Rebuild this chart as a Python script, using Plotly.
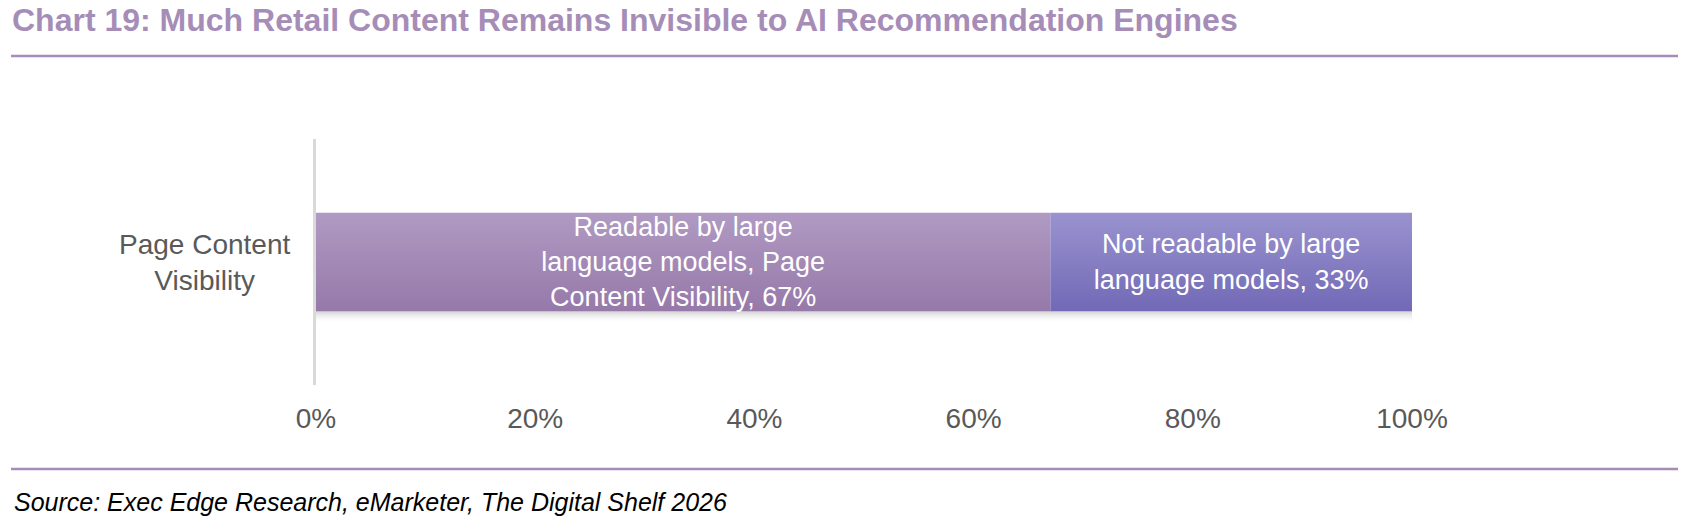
import plotly.graph_objects as go

# data
category = "Page Content<br>Visibility"
series_names = ["Readable by large language models", "Not readable by large language models"]
series_values = [67, 33]
bar_labels = ["Readable by large<br>language models, Page<br>Content Visibility, 67%",
              "Not readable by large<br>language models, 33%"]
bar_top_colors = ["#B09AC3", "#9A93CF"]
bar_bottom_colors = ["#9679A9", "#7169B6"]
tick_vals = [0, 20, 40, 60, 80, 100]
tick_text = ["0%", "20%", "40%", "60%", "80%", "100%"]

W, H = 1690, 523
L, R, T, B = 316, 1412, 139, 385   # plot area in pixels
FONT = "Arial, Liberation Sans, sans-serif"
ACCENT = "#A68DB8"
HALF = 0.2   # half bar thickness in y units


def px_x(p):
    return (p - L) / (R - L)


def px_y(p):
    return (B - p) / (B - T)


fig = go.Figure()

# gradient-filled segments on the base axes
start = 0
for val, top, bot in zip(series_values, bar_top_colors, bar_bottom_colors):
    end = start + val
    fig.add_trace(go.Scatter(
        x=[start, end, end, start, start], y=[-HALF, -HALF, HALF, HALF, -HALF],
        mode="lines", line=dict(width=0), fill="toself",
        fillgradient=dict(type="vertical", start=-HALF, stop=HALF,
                          colorscale=[[0, bot], [1, top]]),
        hoverinfo="skip", showlegend=False,
    ))
    start = end

# soft drop shadow under the whole bar
total = sum(series_values)
fig.add_trace(go.Scatter(
    x=[0, total, total, 0, 0], y=[-HALF - 0.05, -HALF - 0.05, -HALF, -HALF, -HALF - 0.05],
    mode="lines", line=dict(width=0), fill="toself",
    fillgradient=dict(type="vertical", start=-HALF - 0.05, stop=-HALF,
                      colorscale=[[0, "rgba(255,255,255,0)"], [1, "rgba(0,0,0,0.18)"]]),
    hoverinfo="skip", showlegend=False,
))

# bars carry the labels, drawn on an overlay so the text sits on top
for name, val, lab in zip(series_names, series_values, bar_labels):
    fig.add_trace(go.Bar(
        y=[0], x=[val], name=name, orientation="h",
        xaxis="x2", yaxis="y2",
        marker=dict(color="rgba(0,0,0,0)", line=dict(width=0)),
        text=[lab], textposition="inside", insidetextanchor="middle",
        constraintext="none",
        textfont=dict(color="white", size=27, family=FONT),
        width=2 * HALF,
    ))

axis_x = dict(range=[0, 100], showgrid=False, zeroline=False, showline=False,
              fixedrange=True)
axis_y = dict(range=[-0.5, 0.5], showticklabels=False, showgrid=False,
              zeroline=False, fixedrange=True)

fig.update_layout(
    width=W, height=H,
    barmode="stack",
    showlegend=False,
    plot_bgcolor="white", paper_bgcolor="white",
    margin=dict(l=L, r=W - R, t=T, b=H - B, pad=0),
    uniformtext=dict(mode=False),
    xaxis=dict(axis_x, tickvals=tick_vals, ticktext=tick_text,
               tickfont=dict(size=28, color="#595959", family=FONT),
               ticks="", ticklabelstandoff=14),
    yaxis=dict(axis_y, showline=True, linecolor="#D9D9D9", linewidth=3),
    xaxis2=dict(axis_x, overlaying="x", showticklabels=False),
    yaxis2=dict(axis_y, overlaying="y"),
    shapes=[
        dict(type="line", xref="paper", yref="paper",
             x0=px_x(11), x1=px_x(1678), y0=px_y(56), y1=px_y(56),
             line=dict(color=ACCENT, width=2.5)),
        dict(type="line", xref="paper", yref="paper",
             x0=px_x(11), x1=px_x(1678), y0=px_y(469), y1=px_y(469),
             line=dict(color=ACCENT, width=2.5)),
    ],
    annotations=[
        dict(text="<b>Chart 19: Much Retail Content Remains Invisible to AI Recommendation Engines</b>",
             xref="paper", yref="paper", x=px_x(10), y=px_y(20),
             xanchor="left", yanchor="middle", showarrow=False,
             font=dict(size=32, color=ACCENT, family=FONT)),
        dict(text=category, xref="paper", yref="y", x=px_x(292), y=0,
             xanchor="right", yanchor="middle", align="center", showarrow=False,
             font=dict(size=28, color="#595959", family=FONT)),
        dict(text="<i>Source: Exec Edge Research, eMarketer, The Digital Shelf 2026</i>",
             xref="paper", yref="paper", x=px_x(12), y=px_y(502),
             xanchor="left", yanchor="middle", showarrow=False,
             font=dict(size=25, color="black", family=FONT)),
    ],
)

# drop the page's default body margin so the figure sits at the window origin
fig.write_html("out.html", config={"displayModeBar": False},
               post_script="document.body.style.margin = '0';")
